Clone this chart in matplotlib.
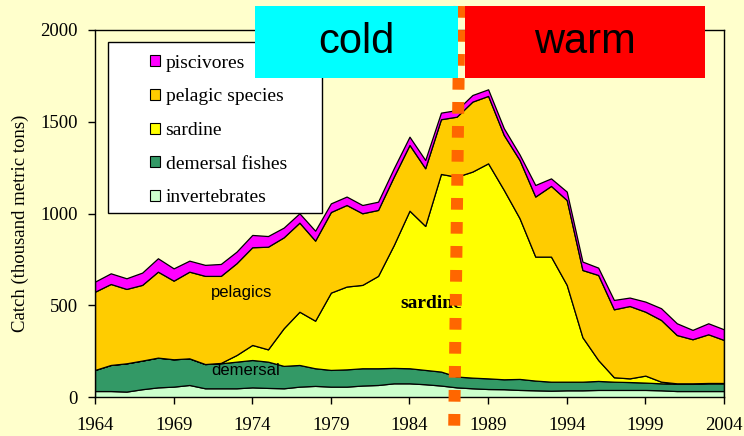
import matplotlib
matplotlib.use('Agg')
import matplotlib.pyplot as plt
from matplotlib.patches import Patch, Rectangle
from matplotlib.lines import Line2D

plt.rcParams['font.family'] = 'Liberation Serif'

# catch by group, thousand metric tons
years = list(range(1964, 2005))
invertebrates = [34, 34, 31, 44, 54, 58, 67, 49, 49, 49, 54, 51, 49, 58, 62, 58, 58, 64, 67, 76, 76,
                 71, 64, 54, 49, 45, 44, 40, 38, 36, 38, 38, 40, 40, 40, 40, 38, 34, 34, 34, 34]
demersal = [115, 142, 154, 156, 162, 149, 145, 132, 136, 145, 149, 143, 122, 118, 96, 91, 94, 94, 91, 84, 82,
            78, 76, 59, 58, 58, 54, 60, 53, 49, 47, 47, 49, 45, 43, 40, 38, 39, 39, 42, 42]
sardine = [0, 0, 0, 0, 0, 0, 0, 0, 2, 36, 82, 67, 205, 290, 259, 421, 451, 454, 503, 669, 858,
           784, 1076, 1088, 1122, 1171, 1031, 875, 675, 681, 527, 242, 114, 24, 20, 38, 9, 3, 3, 2, 2]
pelagic = [426, 441, 405, 412, 468, 428, 472, 480, 474, 500, 532, 559, 495, 485, 436, 439, 444, 390, 359, 372, 358,
           314, 298, 327, 381, 367, 299, 317, 327, 385, 462, 366, 463, 370, 394, 348, 336, 263, 240, 265, 234]
piscivores = [55, 58, 58, 67, 73, 67, 60, 60, 65, 63, 67, 58, 53, 51, 54, 47, 46, 45, 45, 46, 45,
              45, 36, 36, 36, 36, 37, 30, 63, 41, 46, 46, 40, 51, 46, 55, 64, 64, 51, 60, 58]

layer_colors = ['#CCFFCC', '#339966', '#FFFF00', '#FFCC00', '#FF00FF']
legend_labels = ['piscivores', 'pelagic species', 'sardine', 'demersal fishes', 'invertebrates']
legend_colors = ['#FF00FF', '#FFCC00', '#FFFF00', '#339966', '#CCFFCC']
xticks = list(range(1964, 2005, 5))
yticks = [0, 500, 1000, 1500, 2000]

bg = '#FFFFCC'
fig = plt.figure(figsize=(7.44, 4.36), dpi=100, facecolor=bg)
ax = fig.add_axes([0.1277, 0.0888, 0.8454, 0.8424])
ax.set_facecolor(bg)

ax.stackplot(years, invertebrates, demersal, sardine, pelagic, piscivores,
             colors=layer_colors, edgecolor='black', linewidth=0.9)

ax.set_xlim(1964, 2004)
ax.set_ylim(0, 2000)
ax.set_xticks(xticks)
ax.set_yticks(yticks)
ax.tick_params(direction='out', length=5, width=1, labelsize=13.5)
ax.tick_params(axis='y', pad=7.5)
ax.tick_params(axis='x', pad=9.5)
for s in ax.spines.values():
    s.set_linewidth(1)
ax.set_ylabel('Catch (thousand metric tons)', fontsize=13.5)
ax.yaxis.set_label_coords(-0.105, 0.475)

# in-plot labels
ax.text(1973.3, 568, 'pelagics', family='Liberation Sans', fontsize=12, ha='center', va='center')
ax.text(1973.6, 145, 'demersal', family='Liberation Sans', fontsize=12, ha='center', va='center')
ax.text(1985.4, 508, 'sardine', fontsize=14, fontweight='bold', ha='center', va='center')

# legend: white box + entries
ax.add_patch(Rectangle((0.0207, 0.5018), 0.3402, 0.4656, transform=ax.transAxes,
                       facecolor='white', edgecolor='black', lw=1, zorder=4))
handles = [Patch(facecolor=c, edgecolor='black', linewidth=0.8, label=l)
           for c, l in zip(legend_colors, legend_labels)]
leg = ax.legend(handles=handles, loc='upper left', bbox_to_anchor=(0.0874, 0.933), frameon=False,
                fontsize=14, handlelength=0.5, handleheight=0.5, handletextpad=0.3,
                labelspacing=0.86, borderpad=0, borderaxespad=0)
leg.set_zorder(5)

# regime shift marker
fig.add_artist(Line2D([0.6176, 0.6105], [0.9862, 0.0229], transform=fig.transFigure,
                      color='#FF6600', lw=8.64, dashes=(0.975, 1.025), dash_capstyle='butt', zorder=5))
fig.add_artist(Rectangle((0.3427, 0.8218), 0.2724, 0.1644, transform=fig.transFigure,
                         facecolor='#00FFFF', edgecolor='none', zorder=6))
fig.add_artist(Rectangle((0.625, 0.8218), 0.3226, 0.1644, transform=fig.transFigure,
                         facecolor='#FF0000', edgecolor='none', zorder=6))
fig.text(0.3427 + 0.2724 / 2, 0.904, 'cold', family='Liberation Sans', fontsize=30,
         ha='center', va='center', zorder=7)
fig.text(0.625 + 0.3226 / 2, 0.904, 'warm', family='Liberation Sans', fontsize=30,
         ha='center', va='center', zorder=7)

fig.savefig('out.png', dpi=100, facecolor=bg)
